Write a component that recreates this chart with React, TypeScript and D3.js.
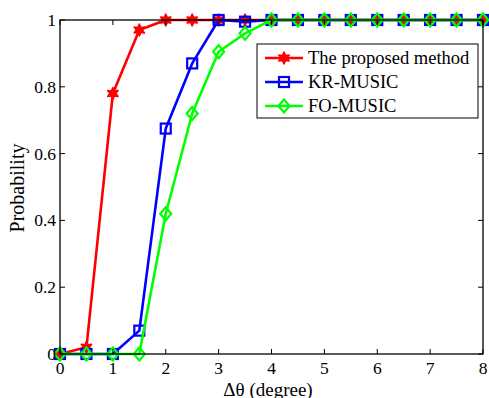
import React from "react";
import * as d3 from "d3";

const xValues = [0, 0.5, 1, 1.5, 2, 2.5, 3, 3.5, 4, 4.5, 5, 5.5, 6, 6.5, 7, 7.5, 8];
const proposed = [0, 0.02, 0.78, 0.97, 1, 1, 1, 1, 1, 1, 1, 1, 1, 1, 1, 1, 1];
const krMusic = [0, 0, 0, 0.07, 0.675, 0.87, 1, 0.995, 1, 1, 1, 1, 1, 1, 1, 1, 1];
const foMusic = [0, 0, 0, 0, 0.42, 0.72, 0.905, 0.96, 1, 1, 1, 1, 1, 1, 1, 1, 1];
const xTicks = [0, 1, 2, 3, 4, 5, 6, 7, 8];
const yTicks = [0, 0.2, 0.4, 0.6, 0.8, 1];
const seriesNames = ["The proposed method", "KR-MUSIC", "FO-MUSIC"];

const W = 489, H = 398;
const L = 60, R = 483, T = 20, B = 354;
const FONT = "Liberation Serif, DejaVu Serif, serif";
const fs: React.CSSProperties = { fontFamily: FONT };

function starPath(cx: number, cy: number, ro: number) {
  const ri = ro * 0.5;
  const pts: string[] = [];
  for (let i = 0; i < 12; i++) {
    const r = i % 2 === 0 ? ro : ri;
    const a = -Math.PI / 2 + (i * Math.PI) / 6;
    pts.push(`${cx + r * Math.cos(a)},${cy + r * Math.sin(a)}`);
  }
  return `M${pts.join("L")}Z`;
}

function Marker({ type, x, y, color }: { type: string; x: number; y: number; color: string }) {
  if (type === "star") return <path d={starPath(x, y, 6)} fill={color} stroke={color} strokeWidth={1.5} strokeLinejoin="round" />;
  if (type === "square")
    return <rect x={x - 5} y={y - 5} width={10} height={10} fill="none" stroke={color} strokeWidth={2.2} />;
  return (
    <path d={`M${x},${y - 6.5}L${x + 5.5},${y}L${x},${y + 6.5}L${x - 5.5},${y}Z`} fill="none" stroke={color} strokeWidth={2.2} />
  );
}

export default function App() {
  const x = d3.scaleLinear().domain([0, 8]).range([L, R]);
  const y = d3.scaleLinear().domain([0, 1]).range([B, T]);
  const series = [
    { name: seriesNames[0], data: proposed, color: "#ff0000", marker: "star" },
    { name: seriesNames[1], data: krMusic, color: "#0000ff", marker: "square" },
    { name: seriesNames[2], data: foMusic, color: "#00ff00", marker: "diamond" },
  ];
  const line = d3
    .line<number>()
    .x((_, i) => x(xValues[i]))
    .y((d) => y(d));
  const legX = 257, legY = 44, legW = 221, legH = 74;
  const rowY = [58, 82, 106];
  return (
    <svg width={W} height={H} style={{ position: "absolute", left: 0, top: 0, background: "#fff" }}>
      <rect x={0} y={0} width={W} height={H} fill="#fff" />
      {series.map((s) => (
        <g key={s.name}>
          <path d={line(s.data) || ""} fill="none" stroke={s.color} strokeWidth={2.6} strokeLinejoin="round" />
          {s.data.map((v, i) => (
            <Marker key={i} type={s.marker} x={x(xValues[i])} y={y(v)} color={s.color} />
          ))}
        </g>
      ))}
      <rect x={L} y={T} width={R - L} height={B - T} fill="none" stroke="#000" strokeWidth={1.3} />
      {xTicks.map((t) => (
        <g key={"x" + t}>
          <line x1={x(t)} x2={x(t)} y1={B} y2={B - 5} stroke="#000" />
          <line x1={x(t)} x2={x(t)} y1={T} y2={T + 5} stroke="#000" />
          <text x={x(t)} y={374} textAnchor="middle" fontSize={17.5} style={fs}>
            {t}
          </text>
        </g>
      ))}
      {yTicks.map((t) => (
        <g key={"y" + t}>
          <line x1={L} x2={L + 5} y1={y(t)} y2={y(t)} stroke="#000" />
          <line x1={R} x2={R - 5} y1={y(t)} y2={y(t)} stroke="#000" />
          <text x={L - 4} y={y(t) + 6} textAnchor="end" fontSize={17.5} style={fs}>
            {t === 0 || t === 1 ? String(t) : t.toFixed(1)}
          </text>
        </g>
      ))}
      <text x={268} y={395.5} textAnchor="middle" fontSize={19} style={fs}>
        Δθ (degree)
      </text>
      <text transform={`translate(24,188) rotate(-90)`} textAnchor="middle" fontSize={20} style={fs}>
        Probability
      </text>
      <rect x={legX} y={legY} width={legW} height={legH} fill="#fff" stroke="#000" strokeWidth={1} />
      {series.map((s, i) => (
        <g key={"leg" + i}>
          <line x1={265} x2={303} y1={rowY[i]} y2={rowY[i]} stroke={s.color} strokeWidth={2.6} />
          <Marker type={s.marker} x={284} y={rowY[i]} color={s.color} />
          <text x={308} y={rowY[i] + 6} fontSize={18.5} style={fs}>
            {s.name}
          </text>
        </g>
      ))}
    </svg>
  );
}
